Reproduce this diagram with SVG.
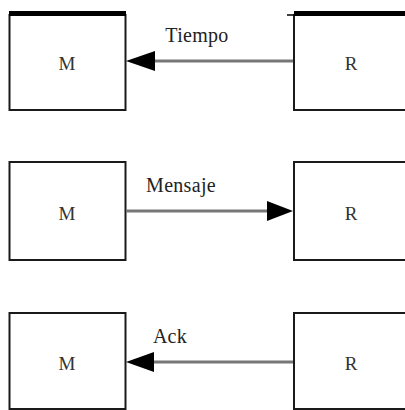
<svg xmlns="http://www.w3.org/2000/svg" width="405" height="410" viewBox="0 0 405 410">
<style>
.box{fill:#fff;stroke:#1a1a1a;stroke-width:2}
.lbl{font-family:"Liberation Serif",serif;font-size:19px;fill:#333;text-anchor:middle}
.elbl{font-family:"Liberation Serif",serif;font-size:20px;fill:#222;text-anchor:middle;letter-spacing:0.3px}
.line{stroke:#777;stroke-width:3;fill:none}
.head{fill:#000}
</style>
<rect width="405" height="410" fill="#fff"/>
<g id="m1">
<rect class="box" x="9.5" y="15" width="116" height="95"/>
<rect x="9" y="11" width="117" height="5" fill="#000"/>
<text class="lbl" x="67" y="70">M</text>
</g>
<g id="r1">
<rect class="box" x="294" y="15" width="116" height="95"/>
<rect x="294" y="11" width="111" height="5" fill="#000"/>
<line x1="287" y1="15" x2="294" y2="15" stroke="#000" stroke-width="1.5"/>
<text class="lbl" x="351" y="70">R</text>
</g>
<g id="m2">
<rect class="box" x="9.5" y="162" width="116" height="98"/>
<text class="lbl" x="67" y="220">M</text>
</g>
<g id="r2">
<rect class="box" x="294" y="162" width="116" height="98"/>
<text class="lbl" x="351" y="220">R</text>
</g>
<g id="m3">
<rect class="box" x="9.5" y="313" width="116" height="96"/>
<text class="lbl" x="67" y="370">M</text>
</g>
<g id="r3">
<rect class="box" x="294" y="313" width="116" height="96"/>
<text class="lbl" x="351" y="370">R</text>
</g>
<g id="connectors">
<line class="line" x1="293" y1="61" x2="150" y2="61"/>
<polygon class="head" points="126,61 155,51 155,71"/>
<text class="elbl" x="197" y="42">Tiempo</text>
<line class="line" x1="126" y1="211" x2="270" y2="211"/>
<polygon class="head" points="293,211 267,201 267,221"/>
<text class="elbl" x="181" y="192">Mensaje</text>
<line class="line" x1="293" y1="362" x2="150" y2="362"/>
<polygon class="head" points="126,362 154,352 154,372"/>
<text class="elbl" x="170" y="343">Ack</text>
</g>
</svg>
